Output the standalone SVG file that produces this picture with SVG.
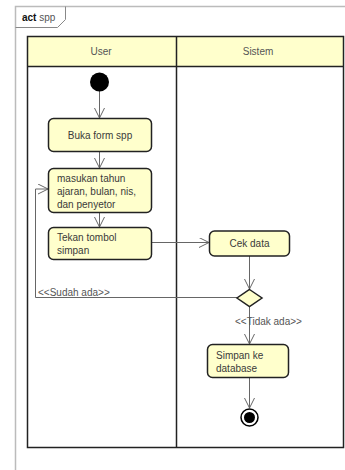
<svg xmlns="http://www.w3.org/2000/svg" width="345" height="470" viewBox="0 0 345 470">
  <style>
    text { font-family: "Liberation Sans", Arial, sans-serif; fill: #333; }
    .lane-title { font-size: 10px; fill: #555; text-anchor: middle; }
    .act { fill: #FFFFCC; stroke: #222; stroke-width: 1.5; }
    .label { font-size: 10px; fill: #3a3a3a; }
    .guard { font-size: 10px; fill: #555; }
    .flow { fill: none; stroke: #666; stroke-width: 1; }
  </style>
  <defs>
    <marker id="open" markerWidth="12" markerHeight="12" refX="10" refY="5" orient="auto" markerUnits="userSpaceOnUse">
      <path d="M0,0 L10,5 L0,10" fill="none" stroke="#666" stroke-width="1"/>
    </marker>
  </defs>
  <rect width="345" height="470" fill="#fff"/>

  <!-- diagram frame with name tab -->
  <g id="frame">
    <path d="M15.5,470 V6.5 H345" fill="none" stroke="#bbb" stroke-width="1.5"/>
    <path d="M15.5,27.5 H57.5 L65.5,19.5 V6.5" fill="none" stroke="#888" stroke-width="1"/>
    <text x="22" y="21" font-size="10px"><tspan font-weight="bold" fill="#111">act</tspan><tspan fill="#555"> spp</tspan></text>
  </g>

  <!-- swimlanes -->
  <g id="lanes">
    <rect x="27.5" y="36.5" width="316" height="30" fill="#FFFFCC"/>
    <rect x="27.5" y="36.5" width="316" height="411" fill="none" stroke="#222" stroke-width="1.5"/>
    <line x1="27.5" y1="66.5" x2="343.5" y2="66.5" stroke="#222" stroke-width="1.5"/>
    <line x1="176.5" y1="36.5" x2="176.5" y2="447.5" stroke="#222" stroke-width="1.5"/>
    <text class="lane-title" x="101" y="55">User</text>
    <text class="lane-title" x="258" y="55">Sistem</text>
  </g>

  <!-- connectors -->
  <g id="connectors">
    <line class="flow" x1="99.5" y1="91" x2="99.5" y2="118" marker-end="url(#open)"/>
    <line class="flow" x1="99.5" y1="152" x2="99.5" y2="168" marker-end="url(#open)"/>
    <line class="flow" x1="99.5" y1="213" x2="99.5" y2="227" marker-end="url(#open)"/>
    <line class="flow" x1="152" y1="242.5" x2="209" y2="242.5" marker-end="url(#open)"/>
    <line class="flow" x1="249.5" y1="256" x2="249.5" y2="289" marker-end="url(#open)"/>
    <polyline class="flow" points="237,297.5 35.5,297.5 35.5,189 48,189" marker-end="url(#open)"/>
    <text class="guard" x="38" y="295.5">&lt;&lt;Sudah ada&gt;&gt;</text>
    <line class="flow" x1="249.5" y1="306" x2="249.5" y2="344" marker-end="url(#open)"/>
    <text class="guard" x="235" y="324.5">&lt;&lt;Tidak ada&gt;&gt;</text>
    <line class="flow" x1="249.5" y1="378" x2="249.5" y2="408" marker-end="url(#open)"/>
  </g>

  <!-- nodes -->
  <g id="start">
    <circle cx="99.5" cy="82" r="9.5" fill="#000"/>
  </g>
  <g id="buka-form">
    <rect class="act" x="48.5" y="118.5" width="103" height="33" rx="5"/>
    <text class="label" x="100" y="139" text-anchor="middle">Buka form spp</text>
  </g>
  <g id="masukan">
    <rect class="act" x="48.5" y="168.5" width="103" height="44" rx="5"/>
    <text class="label" x="57" y="182">masukan tahun</text>
    <text class="label" x="57" y="194.5">ajaran, bulan, nis,</text>
    <text class="label" x="57" y="207.5">dan penyetor</text>
  </g>
  <g id="tekan">
    <rect class="act" x="48.5" y="227.5" width="103" height="32" rx="5"/>
    <text class="label" x="57" y="240.5">Tekan tombol</text>
    <text class="label" x="57" y="253.5">simpan</text>
  </g>
  <g id="cek-data">
    <rect class="act" x="209.5" y="231" width="80" height="25" rx="5"/>
    <text class="label" x="249.5" y="247" text-anchor="middle">Cek data</text>
  </g>
  <g id="decision">
    <polygon points="249.5,289.5 262,298 249.5,306.5 237,298" fill="#FFFFCC" stroke="#222" stroke-width="1.5"/>
  </g>
  <g id="simpan">
    <rect class="act" x="207.5" y="344.5" width="81" height="33" rx="5"/>
    <text class="label" x="216" y="358.5">Simpan ke</text>
    <text class="label" x="216" y="371.5">database</text>
  </g>
  <g id="end">
    <circle cx="249.5" cy="417.5" r="8.5" fill="#fff" stroke="#000" stroke-width="1.5"/>
    <circle cx="249.5" cy="417.5" r="5.5" fill="#000"/>
  </g>
</svg>
